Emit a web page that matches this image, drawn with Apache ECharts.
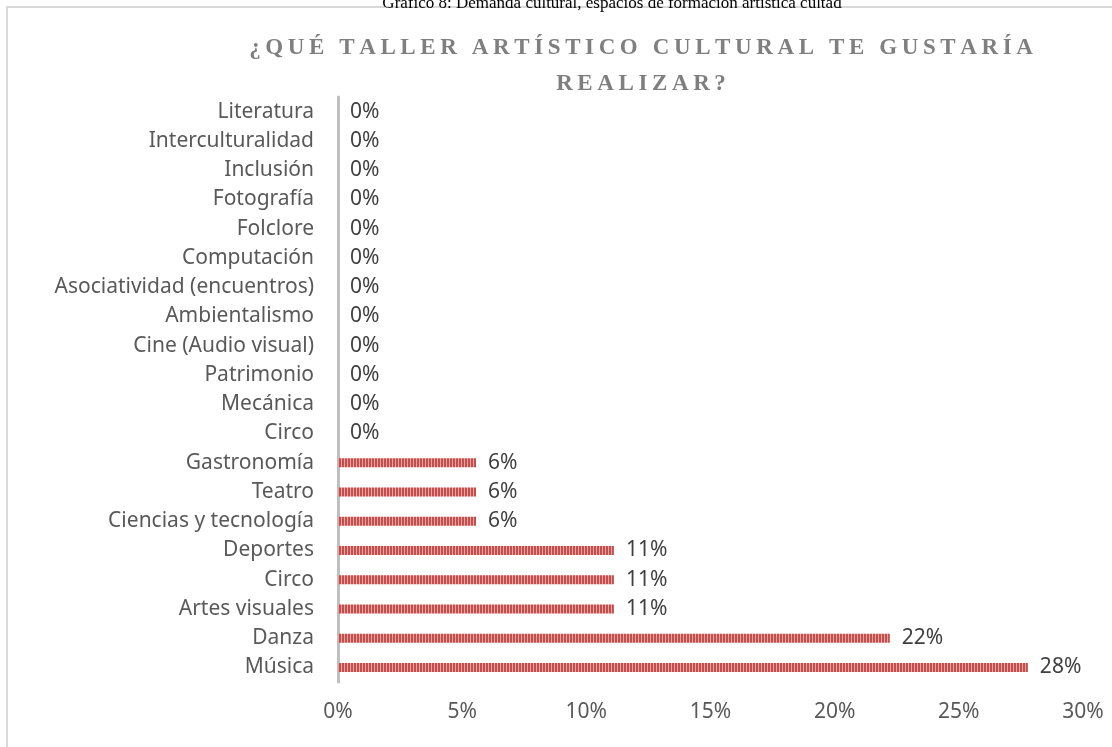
<!DOCTYPE html>
<html>
<head>
<meta charset="utf-8">
<script src="https://cdn.jsdelivr.net/npm/echarts@6/dist/echarts.min.js"></script>
<style>
  html, body { margin: 0; padding: 0; background: #fff; }
  #chart { width: 1112px; height: 747px; }
</style>
</head>
<body>
<div id="chart"></div>
<script>
// categories listed bottom to top (as the category axis draws them)
const categories = [
  'Música', 'Danza', 'Artes visuales', 'Circo', 'Deportes',
  'Ciencias y tecnología', 'Teatro', 'Gastronomía', 'Circo', 'Mecánica',
  'Patrimonio', 'Cine (Audio visual)', 'Ambientalismo', 'Asociatividad (encuentros)',
  'Computación', 'Folclore', 'Fotografía', 'Inclusión', 'Interculturalidad', 'Literatura'
]
// percentages (5/18, 4/18, 2/18, 1/18 ...)
const values = [
  27.78, 22.22, 11.11, 11.11, 11.11,
  5.56, 5.56, 5.56, 0, 0,
  0, 0, 0, 0,
  0, 0, 0, 0, 0, 0
]
const xTicks = [0, 5, 10, 15, 20, 25, 30]

const caption = 'Gráfico 8: Demanda cultural, espacios de formación artística cultad'
const titleLine1 = '¿QUÉ TALLER ARTÍSTICO CULTURAL TE GUSTARÍA'
const titleLine2 = 'REALIZAR?'

// fake letter spacing with thin spaces, wider gaps between words
function spaced(s) {
  return s.split(' ').map(w => w.split('').join('\u2009')).join('\u2009 \u2009')
}

// striped fill like the original bars
function stripePattern() {
  const c = document.createElement('canvas')
  c.width = 3
  c.height = 10
  const ctx = c.getContext('2d')
  ctx.fillStyle = '#c0504d'
  ctx.fillRect(0, 0, 2, 10)
  ctx.fillStyle = '#e8a3a1'
  ctx.fillRect(2, 0, 1, 10)
  return c
}

const chart = echarts.init(document.getElementById('chart'))

const titleStyle = { fontFamily: 'Liberation Serif', fontSize: 23, fontWeight: 'bold', color: '#7f7f7f' }

const option = {
  backgroundColor: '#fff',
  animation: false,
  textStyle: { fontFamily: 'Noto Sans' },
  title: [
    {
      text: caption,
      left: 607,
      top: -10,
      textAlign: 'center',
      textStyle: { fontFamily: 'Liberation Serif', fontSize: 17, fontWeight: 'normal', color: '#000' }
    },
    {
      text: spaced(titleLine1),
      left: 636,
      top: 32,
      textAlign: 'center',
      textStyle: titleStyle
    },
    {
      text: spaced(titleLine2),
      left: 636,
      top: 68,
      textAlign: 'center',
      textStyle: titleStyle
    }
  ],
  graphic: [
    {
      type: 'rect',
      shape: { x: 7, y: 7, width: 1120, height: 760 },
      style: { fill: 'none', stroke: '#d9d9d9', lineWidth: 2 },
      z: -1
    }
  ],
  grid: {
    left: 338,
    right: 29,
    top: 97,
    bottom: 65
  },
  xAxis: {
    type: 'value',
    min: 0,
    max: 30,
    interval: 5,
    axisLine: { show: false },
    axisTick: { show: false },
    splitLine: { show: false },
    axisLabel: {
      color: '#595959',
      fontSize: 21,
      margin: 20,
      formatter: v => (xTicks.includes(v) ? v + '%' : '')
    }
  },
  yAxis: {
    type: 'category',
    data: categories,
    axisLine: { show: true, lineStyle: { color: '#bfbfbf', width: 3 } },
    axisTick: { show: false },
    axisLabel: {
      color: '#595959',
      fontSize: 21,
      margin: 24
    }
  },
  series: [
    {
      type: 'bar',
      data: values,
      barWidth: 9,
      itemStyle: {
        color: { image: stripePattern(), repeat: 'repeat' }
      },
      label: {
        show: true,
        position: 'right',
        distance: 12,
        color: '#404040',
        fontSize: 21,
        formatter: p => Math.round(p.value) + '%'
      }
    }
  ]
}

chart.setOption(option)
</script>
</body>
</html>
